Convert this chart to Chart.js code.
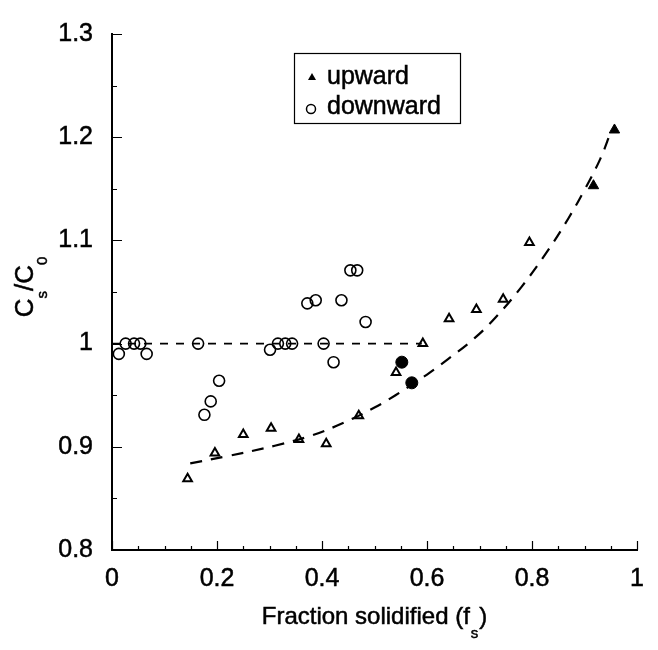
<!DOCTYPE html>
<html>
<head>
<meta charset="utf-8">
<script src="https://cdn.jsdelivr.net/npm/chart.js@4.4.0/dist/chart.umd.min.js"></script>
<style>
  body { margin: 0; background: #fff; }
  #wrap { width: 658px; height: 650px; }
</style>
</head>
<body>
<div id="wrap"><canvas id="scatter-chartcanvas" width="658" height="650"></canvas></div>
<script>
// upward solidification, open triangles
var upX = [0.144, 0.196, 0.250, 0.303, 0.356, 0.408, 0.470, 0.541, 0.592, 0.642, 0.694, 0.745, 0.795];
var upY = [0.869, 0.894, 0.912, 0.918, 0.907, 0.903, 0.930, 0.972, 1.000, 1.024, 1.033, 1.043, 1.098];
// upward, filled triangles
var upFillX = [0.917, 0.957];
var upFillY = [1.153, 1.207];
// downward solidification, open circles
var downX = [0.013, 0.026, 0.042, 0.054, 0.066, 0.164, 0.176, 0.188, 0.204, 0.301, 0.316,
             0.330, 0.343, 0.372, 0.388, 0.403, 0.422, 0.437, 0.454, 0.467, 0.483];
var downY = [0.990, 1.000, 1.000, 1.000, 0.990, 1.000, 0.931, 0.944, 0.964, 0.994, 1.000,
             1.000, 1.000, 1.039, 1.042, 1.000, 0.982, 1.042, 1.071, 1.071, 1.021];
// downward, filled circles
var downFillX = [0.552, 0.571];
var downFillY = [0.982, 0.962];
// dashed trend through the upward data
var fitX = [0.149, 0.22, 0.31, 0.38, 0.44, 0.50, 0.54, 0.60, 0.64, 0.69, 0.73, 0.78, 0.83, 0.87, 0.90, 0.93, 0.95];
var fitY = [0.884, 0.891, 0.901, 0.911, 0.923, 0.938, 0.950, 0.970, 0.985, 1.005, 1.025, 1.055, 1.090, 1.122, 1.149, 1.179, 1.205];
// flat dashed line for the downward data
var flatX = [0, 0.59];
var flatY = [1.0, 1.0];

var xTicks = [0, 0.2, 0.4, 0.6, 0.8, 1];
var yTicks = [0.8, 0.9, 1.0, 1.1, 1.2, 1.3];

var FONT = "'Liberation Sans', Arial, sans-serif";

function pts(xs, ys) {
	var out = [];
	for (var i = 0; i < xs.length; i++) {
		out.push({ x: xs[i], y: ys[i] });
	}
	return out;
}

// draws a run of [text, size, drop, gap] pieces starting at x, baseline y
function drawRun(c, parts, x, y) {
	parts.forEach(function(p) {
		c.font = p[1] + "px " + FONT;
		c.fillText(p[0], x, y + p[2]);
		c.strokeText(p[0], x, y + p[2]);
		x += c.measureText(p[0]).width + (p[3] || 0);
	});
}
function runWidth(c, parts) {
	var w = 0;
	parts.forEach(function(p) {
		c.font = p[1] + "px " + FONT;
		w += c.measureText(p[0]).width + (p[3] || 0);
	});
	return w;
}

// inward ticks, major and minor, along both axes
var innerTicks = {
	id: "innerTicks",
	afterDraw: function(chart) {
		var c = chart.ctx, xs = chart.scales.x, ys = chart.scales.y;
		var a = chart.chartArea;
		c.save();
		c.strokeStyle = "#000";
		c.lineWidth = 1.2;
		c.beginPath();
		for (var i = 0; i <= 10; i++) {
			var v = 0.8 + i * 0.05;
			var py = Math.round(ys.getPixelForValue(v)) + 0.5;
			var len = (i % 2 == 0) ? 10 : 5;
			c.moveTo(a.left, py);
			c.lineTo(a.left + len, py);
		}
		for (var j = 0; j <= 20; j++) {
			var u = j * 0.05;
			var px = Math.round(xs.getPixelForValue(u)) + 0.5;
			var l = (j % 4 == 0) ? 9 : 4;
			c.moveTo(px, a.bottom);
			c.lineTo(px, a.bottom - l);
		}
		c.stroke();
		c.restore();
	}
};

// legend box and axis titles with subscripts
var labels = {
	id: "labels",
	afterDraw: function(chart) {
		var c = chart.ctx;
		c.save();
		c.fillStyle = "#000";
		c.strokeStyle = "#000";

		// legend
		c.lineWidth = 1.2;
		c.strokeRect(294.5, 53.5, 166, 70);
		c.textBaseline = "middle";
		c.textAlign = "left";
		c.lineWidth = 0.5;
		drawRun(c, [["upward", 25, 0]], 327, 77);
		drawRun(c, [["downward", 25, 0]], 327, 107);
		c.beginPath();
		c.moveTo(312, 73);
		c.lineTo(316, 80);
		c.lineTo(308, 80);
		c.closePath();
		c.fill();
		c.lineWidth = 1.5;
		c.beginPath();
		c.arc(311, 109, 4.5, 0, Math.PI * 2);
		c.stroke();

		// x title
		c.textBaseline = "alphabetic";
		c.lineWidth = 0.5;
		var xt = [["Fraction solidified (f", 24, 0, 1], ["s", 15, 14, 1], [")", 24, 0]];
		var a = chart.chartArea;
		drawRun(c, xt, (a.left + a.right) / 2 - runWidth(c, xt) / 2, 624);

		// y title, rotated
		c.translate(33, 287);
		c.rotate(-Math.PI / 2);
		var yt = [["C", 26, 0], ["s", 15, 14], ["/C", 26, 0], ["0", 15, 14]];
		drawRun(c, yt, -runWidth(c, yt) / 2, 0);
		c.restore();
	}
};

var ctx = document.getElementById("scatter-chartcanvas");

var data = {
	datasets: [
	{
		label: "fit",
		data: pts(fitX, fitY),
		showLine: true,
		tension: 0.4,
		borderColor: "#000",
		borderWidth: 2.2,
		borderDash: [12, 9],
		pointRadius: 0
	},
	{
		label: "flat",
		data: pts(flatX, flatY),
		showLine: true,
		borderColor: "#000",
		borderWidth: 1.7,
		borderDash: [8, 8],
		pointRadius: 0
	},
	{
		label: "upward",
		data: pts(upX, upY),
		pointStyle: "triangle",
		pointRadius: 5,
		borderColor: "#000",
		backgroundColor: "#fff",
		borderWidth: 2
	},
	{
		label: "upward filled",
		data: pts(upFillX, upFillY),
		pointStyle: "triangle",
		pointRadius: 6,
		borderColor: "#000",
		backgroundColor: "#000",
		borderWidth: 1
	},
	{
		label: "downward",
		data: pts(downX, downY),
		pointStyle: "circle",
		pointRadius: 5.5,
		borderColor: "#000",
		backgroundColor: "rgba(255,255,255,0)",
		borderWidth: 1.6
	},
	{
		label: "downward filled",
		data: pts(downFillX, downFillY),
		pointStyle: "circle",
		pointRadius: 6,
		borderColor: "#000",
		backgroundColor: "#000",
		borderWidth: 1
	}
	]
};

var tickFont = { family: FONT, size: 25 };

var options = {
	responsive: false,
	animation: false,
	events: [],
	layout: {
		autoPadding: false,
		padding: { left: 0, right: 16, top: 17, bottom: 0 }
	},
	plugins: {
		legend: { display: false },
		tooltip: { enabled: false }
	},
	scales: {
		x: {
			type: "linear",
			min: 0,
			max: 1,
			afterFit: function(s) { s.height = 100; },
			afterBuildTicks: function(s) { s.ticks = xTicks.map(function(v) { return { value: v }; }); },
			grid: { display: true, drawOnChartArea: false, drawTicks: false },
			border: { display: true, color: "#000", width: 2 },
			ticks: {
				padding: 14,
				color: "#000",
				font: tickFont,
				textStrokeColor: "#000",
				textStrokeWidth: 0.5,
				callback: function(v) { return String(+v.toFixed(2)); }
			}
		},
		y: {
			type: "linear",
			min: 0.8,
			max: 1.3,
			afterFit: function(s) { s.width = 112; },
			afterBuildTicks: function(s) { s.ticks = yTicks.map(function(v) { return { value: v }; }); },
			grid: { display: true, drawOnChartArea: false, drawTicks: false },
			border: { display: true, color: "#000", width: 2 },
			ticks: {
				padding: 19,
				color: "#000",
				font: tickFont,
				textStrokeColor: "#000",
				textStrokeWidth: 0.5,
				callback: function(v) { return String(+v.toFixed(2)); }
			}
		}
	}
};

var chart = new Chart(ctx, {
	type: "scatter",
	data: data,
	options: options,
	plugins: [innerTicks, labels]
});
</script>
</body>
</html>
